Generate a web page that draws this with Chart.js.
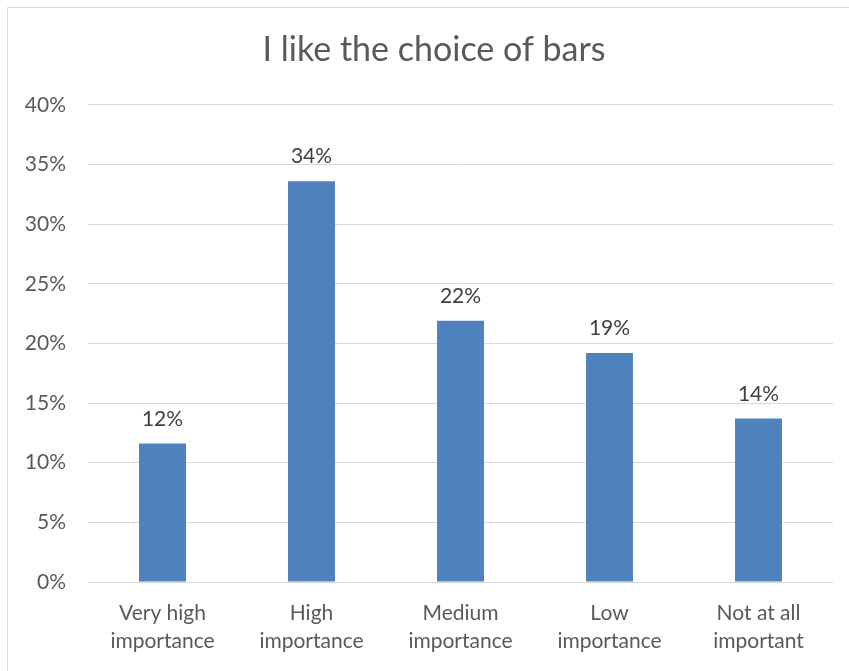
<!DOCTYPE html>
<html>
<head>
<meta charset="utf-8">
<script src="https://cdn.jsdelivr.net/npm/chart.js@4/dist/chart.umd.min.js"></script>
<style>
  html, body { margin: 0; padding: 0; background: #fff; }
  #wrap { position: absolute; left: 0; top: 0; width: 849px; height: 671px; }
</style>
</head>
<body>
<div id="wrap"><canvas id="chart" width="849" height="671"></canvas></div>
<script>
// chart data
const title = "I like the choice of bars";
const categories = [
  ["Very high", "importance"],
  ["High", "importance"],
  ["Medium", "importance"],
  ["Low", "importance"],
  ["Not at all", "important"]
];
const values = [11.6, 33.6, 21.9, 19.2, 13.7];
const yTicks = [0, 5, 10, 15, 20, 25, 30, 35, 40];

const FONT = "Lato, 'Open Sans', sans-serif";

// light grey frame round the chart, like the Excel chart box
const frame = {
  id: "frame",
  beforeDraw(chart) {
    const c = chart.ctx;
    c.save();
    c.fillStyle = "#fff";
    c.fillRect(0, 0, chart.width, chart.height);
    c.strokeStyle = "#d9d9d9";
    c.lineWidth = 1;
    c.beginPath();
    c.moveTo(7.5, chart.height);
    c.lineTo(7.5, 7.5);
    c.lineTo(chart.width, 7.5);
    c.stroke();
    c.restore();
  },
  // the left padding is only there to shift the title; let y labels use it
  afterLayout(chart) {
    chart.scales.y.left = 0;
  }
};

// value labels above each bar
const barLabels = {
  id: "barLabels",
  afterDatasetsDraw(chart) {
    const c = chart.ctx;
    const meta = chart.getDatasetMeta(0);
    c.save();
    c.font = "21px " + FONT;
    c.fillStyle = "#404040";
    c.textAlign = "center";
    c.textBaseline = "alphabetic";
    meta.data.forEach((bar, i) => {
      c.fillText(Math.round(values[i]) + "%", bar.x, bar.y - 18);
    });
    c.restore();
  }
};

const ctx = document.getElementById("chart").getContext("2d");
const chart = new Chart(ctx, {
  type: "bar",
  data: {
    labels: categories,
    datasets: [{
      data: values,
      backgroundColor: "#4f81bd",
      borderWidth: 0,
      categoryPercentage: 1,
      barPercentage: 0.315
    }]
  },
  options: {
    responsive: false,
    animation: false,
    layout: { padding: { left: 35, right: 16, top: 30, bottom: 0 } },
    plugins: {
      legend: { display: false },
      tooltip: { enabled: false },
      title: {
        display: true,
        text: title,
        color: "#595959",
        font: { family: FONT, size: 34, weight: "normal", lineHeight: 1.2 },
        padding: { top: 0, bottom: 34 }
      }
    },
    scales: {
      x: {
        afterFit(scale) { scale.height = 89; },
        grid: { display: false },
        border: { display: false },
        ticks: {
          color: "#595959",
          font: { family: FONT, size: 21, lineHeight: 1.33 },
          padding: 9,
          maxRotation: 0,
          autoSkip: false
        }
      },
      y: {
        min: 0,
        max: 40,
        afterFit(scale) { scale.width = 53; },
        afterBuildTicks(scale) { scale.ticks = yTicks.map(v => ({ value: v })); },
        grid: { color: "#d9d9d9", lineWidth: 1, drawTicks: false },
        border: { display: false },
        ticks: {
          color: "#595959",
          font: { family: FONT, size: 21 },
          padding: 22,
          callback: v => v + "%"
        }
      }
    }
  },
  plugins: [frame, barLabels]
});
</script>
</body>
</html>
